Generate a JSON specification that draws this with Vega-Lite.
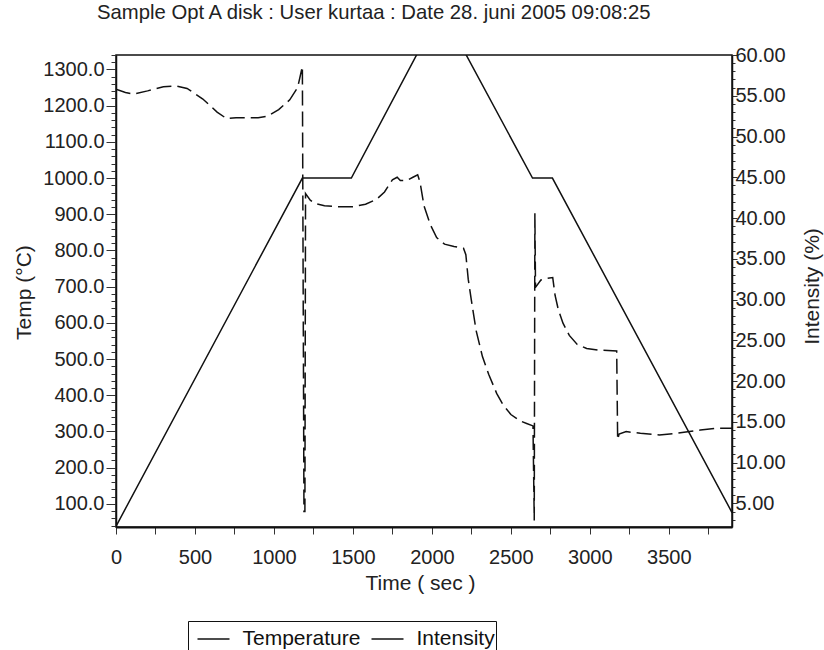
{
  "$schema": "https://vega.github.io/schema/vega-lite/v6.json",
  "width": 616,
  "height": 472,
  "autosize": {"type": "none"},
  "padding": {"left": 116, "top": 55, "right": 92, "bottom": 123},
  "background": "white",
  "config": {
    "view": {"stroke": "#111", "strokeWidth": 1.5},
    "font": "Liberation Sans",
    "axis": {"grid": false},
    "legend": {
      "labelExpr": "datum.label == 'Intensity' ? 'Intensity\u00a0\u00a0\u00a0\u00a0\u00a0\u00a0\u00a0\u00a0' : datum.label"
    }
  },
  "title": {
    "text": "Sample Opt A disk : User kurtaa : Date 28. juni 2005 09:08:25",
    "anchor": "start",
    "frame": "group",
    "dx": -19,
    "offset": 22,
    "fontSize": 20.3,
    "fontWeight": "normal",
    "font": "Liberation Sans",
    "color": "#222"
  },
  "data": {
    "values": [
      {"s": "Temperature", "t": 0, "v": 38},
      {"s": "Temperature", "t": 1180, "v": 1000},
      {"s": "Temperature", "t": 1490, "v": 1000},
      {"s": "Temperature", "t": 1915, "v": 1350},
      {"s": "Temperature", "t": 2205, "v": 1350},
      {"s": "Temperature", "t": 2637, "v": 1000},
      {"s": "Temperature", "t": 2763, "v": 1000},
      {"s": "Temperature", "t": 3900, "v": 76},
      {"s": "Intensity", "t": 0, "v": 55.8},
      {"s": "Intensity", "t": 60, "v": 55.4},
      {"s": "Intensity", "t": 110, "v": 55.2},
      {"s": "Intensity", "t": 200, "v": 55.6},
      {"s": "Intensity", "t": 300, "v": 56.1},
      {"s": "Intensity", "t": 383, "v": 56.2},
      {"s": "Intensity", "t": 450, "v": 55.9},
      {"s": "Intensity", "t": 550, "v": 54.6},
      {"s": "Intensity", "t": 640, "v": 53.0},
      {"s": "Intensity", "t": 700, "v": 52.2},
      {"s": "Intensity", "t": 760, "v": 52.3},
      {"s": "Intensity", "t": 900, "v": 52.3},
      {"s": "Intensity", "t": 960, "v": 52.5},
      {"s": "Intensity", "t": 1030, "v": 53.3},
      {"s": "Intensity", "t": 1100, "v": 54.5},
      {"s": "Intensity", "t": 1150, "v": 56.0},
      {"s": "Intensity", "t": 1180, "v": 58.6},
      {"s": "Intensity", "t": 1190, "v": 4.0},
      {"s": "Intensity", "t": 1196, "v": 4.0},
      {"s": "Intensity", "t": 1200, "v": 43.0},
      {"s": "Intensity", "t": 1230, "v": 42.2},
      {"s": "Intensity", "t": 1260, "v": 41.8},
      {"s": "Intensity", "t": 1320, "v": 41.5},
      {"s": "Intensity", "t": 1400, "v": 41.4},
      {"s": "Intensity", "t": 1500, "v": 41.4},
      {"s": "Intensity", "t": 1580, "v": 41.7},
      {"s": "Intensity", "t": 1650, "v": 42.3},
      {"s": "Intensity", "t": 1700, "v": 43.2},
      {"s": "Intensity", "t": 1750, "v": 44.7},
      {"s": "Intensity", "t": 1780, "v": 45.0},
      {"s": "Intensity", "t": 1800, "v": 44.6},
      {"s": "Intensity", "t": 1840, "v": 44.6},
      {"s": "Intensity", "t": 1880, "v": 45.0},
      {"s": "Intensity", "t": 1910, "v": 45.3},
      {"s": "Intensity", "t": 1925, "v": 44.4},
      {"s": "Intensity", "t": 1950, "v": 41.5},
      {"s": "Intensity", "t": 1990, "v": 39.2},
      {"s": "Intensity", "t": 2030, "v": 37.6},
      {"s": "Intensity", "t": 2080, "v": 36.8},
      {"s": "Intensity", "t": 2140, "v": 36.5},
      {"s": "Intensity", "t": 2200, "v": 36.3},
      {"s": "Intensity", "t": 2215, "v": 35.5},
      {"s": "Intensity", "t": 2230, "v": 32.5},
      {"s": "Intensity", "t": 2250, "v": 29.9},
      {"s": "Intensity", "t": 2280, "v": 26.2},
      {"s": "Intensity", "t": 2320, "v": 23.0},
      {"s": "Intensity", "t": 2360, "v": 20.8},
      {"s": "Intensity", "t": 2410, "v": 18.5},
      {"s": "Intensity", "t": 2450, "v": 17.1},
      {"s": "Intensity", "t": 2500, "v": 15.9},
      {"s": "Intensity", "t": 2560, "v": 15.1},
      {"s": "Intensity", "t": 2600, "v": 14.8},
      {"s": "Intensity", "t": 2640, "v": 14.5},
      {"s": "Intensity", "t": 2648, "v": 2.9},
      {"s": "Intensity", "t": 2652, "v": 40.6},
      {"s": "Intensity", "t": 2656, "v": 31.5},
      {"s": "Intensity", "t": 2690, "v": 32.4},
      {"s": "Intensity", "t": 2730, "v": 32.6},
      {"s": "Intensity", "t": 2765, "v": 32.7},
      {"s": "Intensity", "t": 2780, "v": 30.5},
      {"s": "Intensity", "t": 2800, "v": 28.8},
      {"s": "Intensity", "t": 2830, "v": 27.1},
      {"s": "Intensity", "t": 2870, "v": 25.6},
      {"s": "Intensity", "t": 2920, "v": 24.5},
      {"s": "Intensity", "t": 2980, "v": 24.0},
      {"s": "Intensity", "t": 3050, "v": 23.8},
      {"s": "Intensity", "t": 3170, "v": 23.7},
      {"s": "Intensity", "t": 3176, "v": 12.8},
      {"s": "Intensity", "t": 3185, "v": 13.5},
      {"s": "Intensity", "t": 3230, "v": 13.8},
      {"s": "Intensity", "t": 3320, "v": 13.6},
      {"s": "Intensity", "t": 3440, "v": 13.4},
      {"s": "Intensity", "t": 3550, "v": 13.6},
      {"s": "Intensity", "t": 3700, "v": 14.0},
      {"s": "Intensity", "t": 3800, "v": 14.2},
      {"s": "Intensity", "t": 3900, "v": 14.2}
    ]
  },
  "encoding": {
    "x": {
      "field": "t",
      "type": "quantitative",
      "scale": {"domain": [0, 3900], "nice": false, "zero": false},
      "axis": {
        "title": "Time ( sec )",
        "values": [0, 250, 500, 750, 1000, 1250, 1500, 1750, 2000, 2250, 2500, 2750, 3000, 3250, 3500, 3750],
        "labelExpr": "datum.value % 500 === 0 ? format(datum.value, 'd') : ''",
        "tickSize": 7,
        "tickColor": "#333",
        "labelPadding": 13,
        "labelFontSize": 20,
        "labelColor": "#222",
        "labelFlush": false,
        "labelOverlap": false,
        "domainColor": "#111",
        "domainWidth": 2,
        "titleFontSize": 21,
        "titleFontWeight": "normal",
        "titleColor": "#222",
        "titleX": 304,
        "titleY": 56,
        "titleAlign": "center",
        "titleBaseline": "middle"
      }
    },
    "color": {
      "field": "s",
      "type": "nominal",
      "scale": {"domain": ["Temperature", "Intensity"], "range": ["#111", "#111"]},
      "legend": {
        "title": null,
        "orient": "none",
        "legendX": 72,
        "legendY": 566,
        "direction": "horizontal",
        "columns": 2,
        "gridAlign": "all",
        "columnPadding": 2,
        "padding": 1,
        "strokeColor": "#111",
        "symbolType": "stroke",
        "symbolSize": 1024,
        "symbolStrokeWidth": 1.5,
        "symbolOffset": 7.5,
        "labelOffset": 12,
        "labelFontSize": 21,
        "labelColor": "#111",
        "labelLimit": 0,
        "labelExpr": "datum.label == 'Intensity' ? 'Intensity\u00a0\u00a0\u00a0\u00a0\u00a0\u00a0\u00a0\u00a0' : datum.label"
      }
    }
  },
  "layer": [
    {
      "transform": [{"filter": {"field": "s", "equal": "Temperature"}}],
      "mark": {"type": "line", "strokeWidth": 1.5, "clip": true},
      "encoding": {
        "y": {
          "field": "v",
          "type": "quantitative",
          "scale": {"domain": [36, 1340], "nice": false, "zero": false},
          "axis": {
            "orient": "left",
            "title": "Temp (°C)",
            "values": [40, 60, 80, 100, 120, 140, 160, 180, 200, 220, 240, 260, 280, 300, 320, 340, 360, 380, 400, 420, 440, 460, 480, 500, 520, 540, 560, 580, 600, 620, 640, 660, 680, 700, 720, 740, 760, 780, 800, 820, 840, 860, 880, 900, 920, 940, 960, 980, 1000, 1020, 1040, 1060, 1080, 1100, 1120, 1140, 1160, 1180, 1200, 1220, 1240, 1260, 1280, 1300, 1320, 1340],
            "labelExpr": "datum.value % 100 === 0 ? format(datum.value, '.1f') : ''",
            "tickSize": {"condition": {"test": "datum.value % 100 === 0", "value": 10}, "value": 5},
            "tickColor": "#333",
            "labelPadding": 2,
            "labelFontSize": 20,
            "labelColor": "#222",
            "labelOverlap": false,
            "labelFlush": false,
            "domainColor": "#111",
            "domainWidth": 1.5,
            "titleFontSize": 21,
            "titleFontWeight": "normal",
            "titleColor": "#222",
            "titleAngle": 270,
            "titleX": -92,
            "titleY": 237,
            "titleAlign": "center",
            "titleBaseline": "middle"
          }
        }
      }
    },
    {
      "transform": [{"filter": {"field": "s", "equal": "Intensity"}}],
      "mark": {"type": "line", "strokeWidth": 1.5, "strokeDash": [15, 6], "clip": true},
      "encoding": {
        "y": {
          "field": "v",
          "type": "quantitative",
          "scale": {"domain": [2.1, 60], "nice": false, "zero": false},
          "axis": {
            "orient": "right",
            "title": "Intensity (%)",
            "values": [3, 4, 5, 6, 7, 8, 9, 10, 11, 12, 13, 14, 15, 16, 17, 18, 19, 20, 21, 22, 23, 24, 25, 26, 27, 28, 29, 30, 31, 32, 33, 34, 35, 36, 37, 38, 39, 40, 41, 42, 43, 44, 45, 46, 47, 48, 49, 50, 51, 52, 53, 54, 55, 56, 57, 58, 59, 60],
            "labelExpr": "datum.value % 5 === 0 ? format(datum.value, '.2f') : ''",
            "tickSize": {"condition": {"test": "datum.value % 5 === 0", "value": 5}, "value": 3},
            "tickColor": "#333",
            "labelPadding": -2,
            "labelFontSize": 20,
            "labelColor": "#222",
            "labelOverlap": false,
            "labelFlush": false,
            "domainColor": "#111",
            "domainWidth": 1.5,
            "titleFontSize": 21,
            "titleFontWeight": "normal",
            "titleColor": "#222",
            "titleAngle": 270,
            "titleX": 80,
            "titleY": 231,
            "titleAlign": "center",
            "titleBaseline": "middle"
          }
        }
      }
    }
  ],
  "resolve": {"scale": {"y": "independent"}}
}
